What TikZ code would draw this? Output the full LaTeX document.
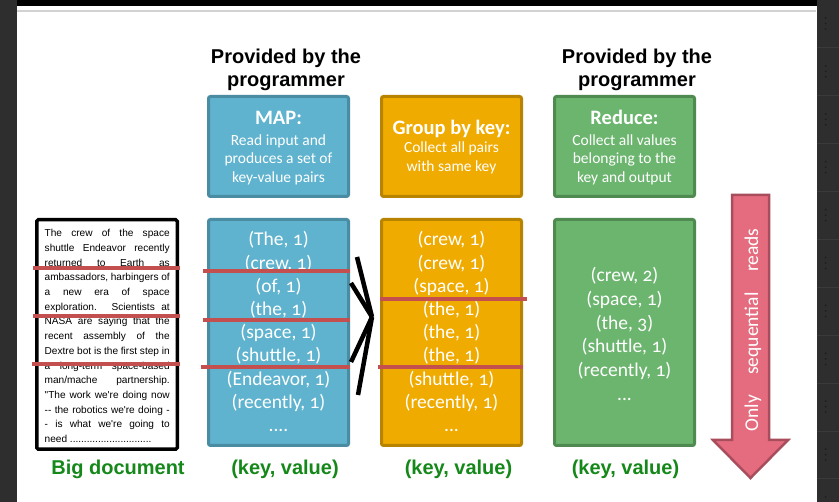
\documentclass[tikz,border=0pt]{standalone}
\usepackage{fontspec}
\setmainfont{Carlito}[Numbers=OldStyle]
\newfontfamily\arialfont{Liberation Sans}
\newfontfamily\docfont{Liberation Sans}
\definecolor{mapfill}{HTML}{5FB3CE}
\definecolor{mapline}{HTML}{4A8DA2}
\definecolor{grpfill}{HTML}{F0AB00}
\definecolor{grpline}{HTML}{B88400}
\definecolor{rdcfill}{HTML}{6CB56F}
\definecolor{rdcline}{HTML}{4F8B51}
\definecolor{strike}{HTML}{C44F4F}
\definecolor{pinkfill}{HTML}{E56C7E}
\definecolor{pinkline}{HTML}{A84D5C}
\definecolor{labgreen}{HTML}{15881A}
\definecolor{stripcol}{HTML}{2E2E2E}
\definecolor{stripsep}{HTML}{3A3A3A}
\definecolor{stripdot}{HTML}{1E1E1E}
\def\fourdots{....}
\def\threedots{...}
\begin{document}
\begin{tikzpicture}[x=1pt,y=-1pt,
  box/.style={draw, line width=3pt, rounded corners=2pt, minimum width=140pt, inner sep=0pt},
  mapbox/.style={box, fill=mapfill, draw=mapline},
  grpbox/.style={box, fill=grpfill, draw=grpline},
  rdcbox/.style={box, fill=rdcfill, draw=rdcline},
  itemtext/.style={text=white, font=\fontsize{19.5}{23}\selectfont, anchor=base, inner sep=0pt},
  boxtitle/.style={text=white, font=\bfseries\fontsize{20.5}{24}\selectfont, anchor=base, inner sep=0pt},
  boxbody/.style={text=white, font=\fontsize{15.5}{18.5}\selectfont, anchor=base, inner sep=0pt},
  header/.style={font=\arialfont\bfseries\fontsize{20}{23}\selectfont, anchor=base, inner sep=0pt},
  bottomlab/.style={font=\arialfont\bfseries\fontsize{20}{23}\selectfont, text=labgreen, anchor=base, inner sep=0pt},
  docline/.style={font=\docfont\fontsize{10.1}{12}\selectfont, anchor=base west, inner sep=0pt},
  redline/.style={draw=strike, line width=4pt},
  chev/.style={draw=black, line width=4.5pt},
  pinkarrow/.style={fill=pinkfill, draw=pinkline, line width=2.5pt, line join=miter}
]
\useasboundingbox (0,0) rectangle (839,502);
% screenshot frame
\fill[white] (0,0) rectangle (839,502);
\fill[stripcol] (0,0) rectangle (17,502);
\fill[stripcol] (817,0) rectangle (839,502);
\fill[black] (17,0) rectangle (817,6);
\draw[gray!35, line width=1.5pt] (17,11) -- (816,11);
\foreach \k in {1,2,3,4,5,6,7,8,9,10} {
  \draw[stripsep, line width=1pt] (817,{47.9*\k}) -- (839,{47.9*\k});
}
\foreach \k in {0,1,2,3,4,5,6,7,8,9,10} {
  \foreach \d in {18,23.5,29} {
    \fill[stripdot] (825.7,{47.9*\k+\d}) circle (1pt);
  }
}

% headers
\node[header] (h1a) at (286,63.5) {Provided by the};
\node[header] (h1b) at (286,86.5) {programmer};
\node[header] (h2a) at (637,63.5) {Provided by the};
\node[header] (h2b) at (637,86.5) {programmer};

% top boxes
\node[mapbox, minimum height=100pt] (maptop) at (278.5,146.5) {};
\node[grpbox, minimum height=100pt] (grptop) at (451.5,146.5) {};
\node[rdcbox, minimum height=100pt] (rdctop) at (624.5,146.5) {};

\node[boxtitle] (mapt) at (278.5,125) {MAP:};
\node[boxbody] (mapb1) at (278.5,145.5) {Read input and};
\node[boxbody] (mapb2) at (278.5,164) {produces a set of};
\node[boxbody] (mapb3) at (278.5,182.5) {key-value pairs};

\node[boxtitle] (grpt) at (451.5,135) {Group by key:};
\node[boxbody] (grpb1) at (451.5,153) {Collect all pairs};
\node[boxbody] (grpb2) at (451.5,171.5) {with same key};

\node[boxtitle] (rdct) at (624.5,125) {Reduce:};
\node[boxbody] (rdcb1) at (624.5,145.5) {Collect all values};
\node[boxbody] (rdcb2) at (624.5,164) {belonging to the};
\node[boxbody] (rdcb3) at (624.5,182.5) {key and output};

% document box
\node[draw=black, line width=3.5pt, rounded corners=1.5pt, fill=white, minimum width=140.5pt, minimum height=229.5pt, inner sep=0pt] (doc) at (107,334.5) {};
\node[docline] (d1) at (44.5,236.7) {\makebox[125pt][s]{The crew of the space}};
\node[docline] (d2) at (44.5,251.4) {\makebox[125pt][s]{shuttle Endeavor recently}};
\node[docline] (d3) at (44.5,266.1) {\makebox[125pt][s]{returned to Earth as}};
\node[docline] (d4) at (44.5,280.8) {\makebox[125pt][s]{ambassadors, harbingers of}};
\node[docline] (d5) at (44.5,295.5) {\makebox[125pt][s]{a new era of space}};
\node[docline] (d6) at (44.5,310.3) {\makebox[125pt][s]{exploration. Scientists at}};
\node[docline] (d7) at (44.5,325.0) {\makebox[125pt][s]{NASA are saying that the}};
\node[docline] (d8) at (44.5,339.7) {\makebox[125pt][s]{recent assembly of the}};
\node[docline] (d9) at (44.5,354.4) {\makebox[125pt][s]{Dextre bot is the first step in}};
\node[docline] (d10) at (44.5,369.1) {\makebox[125pt][s]{a long-term space-based}};
\node[docline] (d11) at (44.5,383.8) {\makebox[125pt][s]{man/mache partnership.}};
\node[docline] (d12) at (44.5,398.5) {\makebox[125pt][s]{"The work we're doing now}};
\node[docline] (d13) at (44.5,413.2) {\makebox[125pt][s]{-\kern0pt- the robotics we're doing -}};
\node[docline] (d14) at (44.5,427.9) {\makebox[125pt][s]{- is what we're going to}};
\node[docline] (d15) at (44.5,442.7) {need .............................};

% data boxes
\node[mapbox, minimum height=226pt] (map) at (278.5,332.5) {};
\node[grpbox, minimum height=226pt] (grp) at (451.5,332.5) {};
\node[rdcbox, minimum height=226pt] (rdc) at (624.5,332.5) {};

\foreach \t [count=\i] in {{(The, 1)},{(crew, 1)},{(of, 1)},{(the, 1)},{(space, 1)},{(shuttle, 1)},{(Endeavor, 1)},{(recently, 1)},{\fourdots}} {
  \node[itemtext] (m\i) at (278.5,{246+23.2*(\i-1)}) {\t};
}
\foreach \t [count=\i] in {{(crew, 1)},{(crew, 1)},{(space, 1)},{(the, 1)},{(the, 1)},{(the, 1)},{(shuttle, 1)},{(recently, 1)},{\threedots}} {
  \node[itemtext] (g\i) at (451.5,{246+23.2*(\i-1)}) {\t};
}
\foreach \t [count=\i] in {{(crew, 2)},{(space, 1)},{(the, 3)},{(shuttle, 1)},{(recently, 1)},{\threedots}} {
  \node[itemtext] (r\i) at (624.5,{281.5+23.8*(\i-1)}) {\t};
}

% red split lines
\draw[redline] (33,268) -- (180,268);
\draw[redline] (33,316) -- (180,316);
\draw[redline] (32,364) -- (180,364);
\draw[redline] (203,271) -- (350,271);
\draw[redline] (203,320) -- (350,320);
\draw[redline] (201,367) -- (350,367);
\draw[redline] (380,299) -- (527,299);
\draw[redline] (378,367) -- (523,367);

% shuffle chevron
\coordinate (tip) at (372,317);
\coordinate (c1) at (357,257);
\coordinate (c2) at (351,283);
\coordinate (c3) at (351,362);
\coordinate (c4) at (358,395);
\draw[chev] (c1) -- (tip);
\draw[chev] (c2) -- (tip);
\draw[chev] (tip) -- (c3);
\draw[chev] (tip) -- (c4);

% sequential reads arrow
\draw[pinkarrow] (732,195) -- (769,195) -- (769,440) -- (788,440) -- (750.5,478) -- (713,440) -- (732,440) -- cycle;
\node[text=white, font=\fontsize{19.5}{23}\selectfont, rotate=90, anchor=base, inner sep=0pt] (seq) at (758,330) {\makebox[203pt][s]{Only sequential reads}};

% bottom labels
\node[bottomlab] (lbdoc) at (118,474.5) {Big document};
\node[bottomlab] (lbmap) at (285,474.5) {(key, value)};
\node[bottomlab] (lbgrp) at (458.5,474.5) {(key, value)};
\node[bottomlab] (lbrdc) at (625.5,474.5) {(key, value)};
\end{tikzpicture}
\end{document}
